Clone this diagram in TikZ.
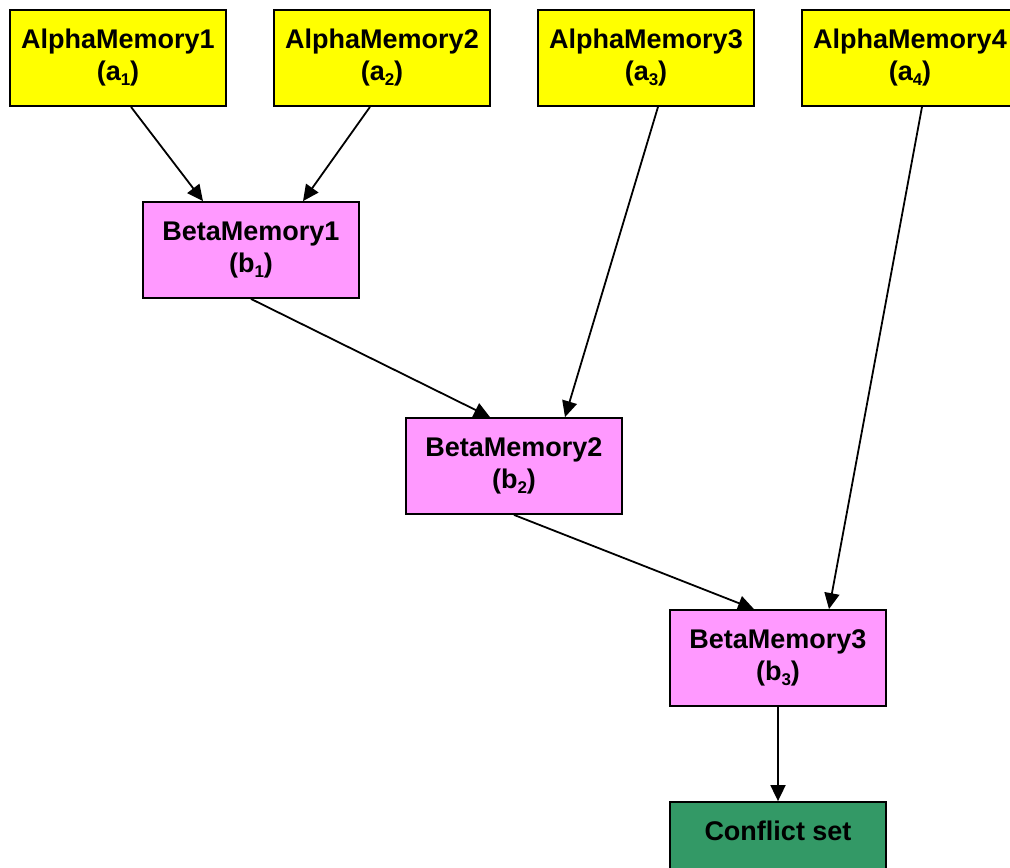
\documentclass[tikz,border=0pt]{standalone}
\usepackage{fontspec}
\setmainfont{Liberation Sans}
\usetikzlibrary{arrows.meta}
\definecolor{alphafill}{HTML}{FFFF00}
\definecolor{betafill}{HTML}{FF99FF}
\definecolor{conflictfill}{HTML}{339966}
% index set as a lowered, smaller subscript
\newcommand{\memidx}[1]{\raisebox{-0.35ex}{\fontsize{17}{17}\selectfont #1}}
\tikzset{
  membox/.style={draw=black, line width=1.8pt, minimum width=216pt, minimum height=96pt,
    inner sep=0pt, align=center, font=\fontsize{27}{32}\selectfont\bfseries},
  alphabox/.style={membox, fill=alphafill},
  betabox/.style={membox, fill=betafill},
  conflictbox/.style={membox, fill=conflictfill},
  flow/.style={line width=1.8pt, -{Triangle[length=16pt,width=15pt]}}
}
\begin{document}
\begin{tikzpicture}[x=1pt,y=-1pt]
\useasboundingbox (0,0) rectangle (1010,868);
\clip (0,0) rectangle (1010,868);
% alpha memories along the top
\node[alphabox] (a1) at (118,58) {AlphaMemory1\\(a\memidx{1})};
\node[alphabox] (a2) at (382,58) {AlphaMemory2\\(a\memidx{2})};
\node[alphabox] (a3) at (646,58) {AlphaMemory3\\(a\memidx{3})};
\node[alphabox] (a4) at (910,58) {AlphaMemory4\\(a\memidx{4})};
% beta memories descending diagonally
\node[betabox] (b1) at (251,250) {BetaMemory1\\(b\memidx{1})};
\node[betabox] (b2) at (514,466) {BetaMemory2\\(b\memidx{2})};
\node[betabox] (b3) at (778,658) {BetaMemory3\\(b\memidx{3})};
% terminal node
\node[conflictbox] (cs) at (778,850) {Conflict set\\\phantom{(b)}};
% joins
\draw[flow] ([xshift=13pt]a1.south) -- ([xshift=-48pt]b1.north);
\draw[flow] ([xshift=-12pt]a2.south) -- ([xshift=52pt]b1.north);
\draw[flow] (b1.south) -- ([xshift=-24pt]b2.north);
\draw[flow] ([xshift=12pt]a3.south) -- ([xshift=51pt]b2.north);
\draw[flow] (b2.south) -- ([xshift=-24pt]b3.north);
\draw[flow] ([xshift=12pt]a4.south) -- ([xshift=51pt]b3.north);
\draw[flow] (b3.south) -- (cs.north);
\end{tikzpicture}
\end{document}
